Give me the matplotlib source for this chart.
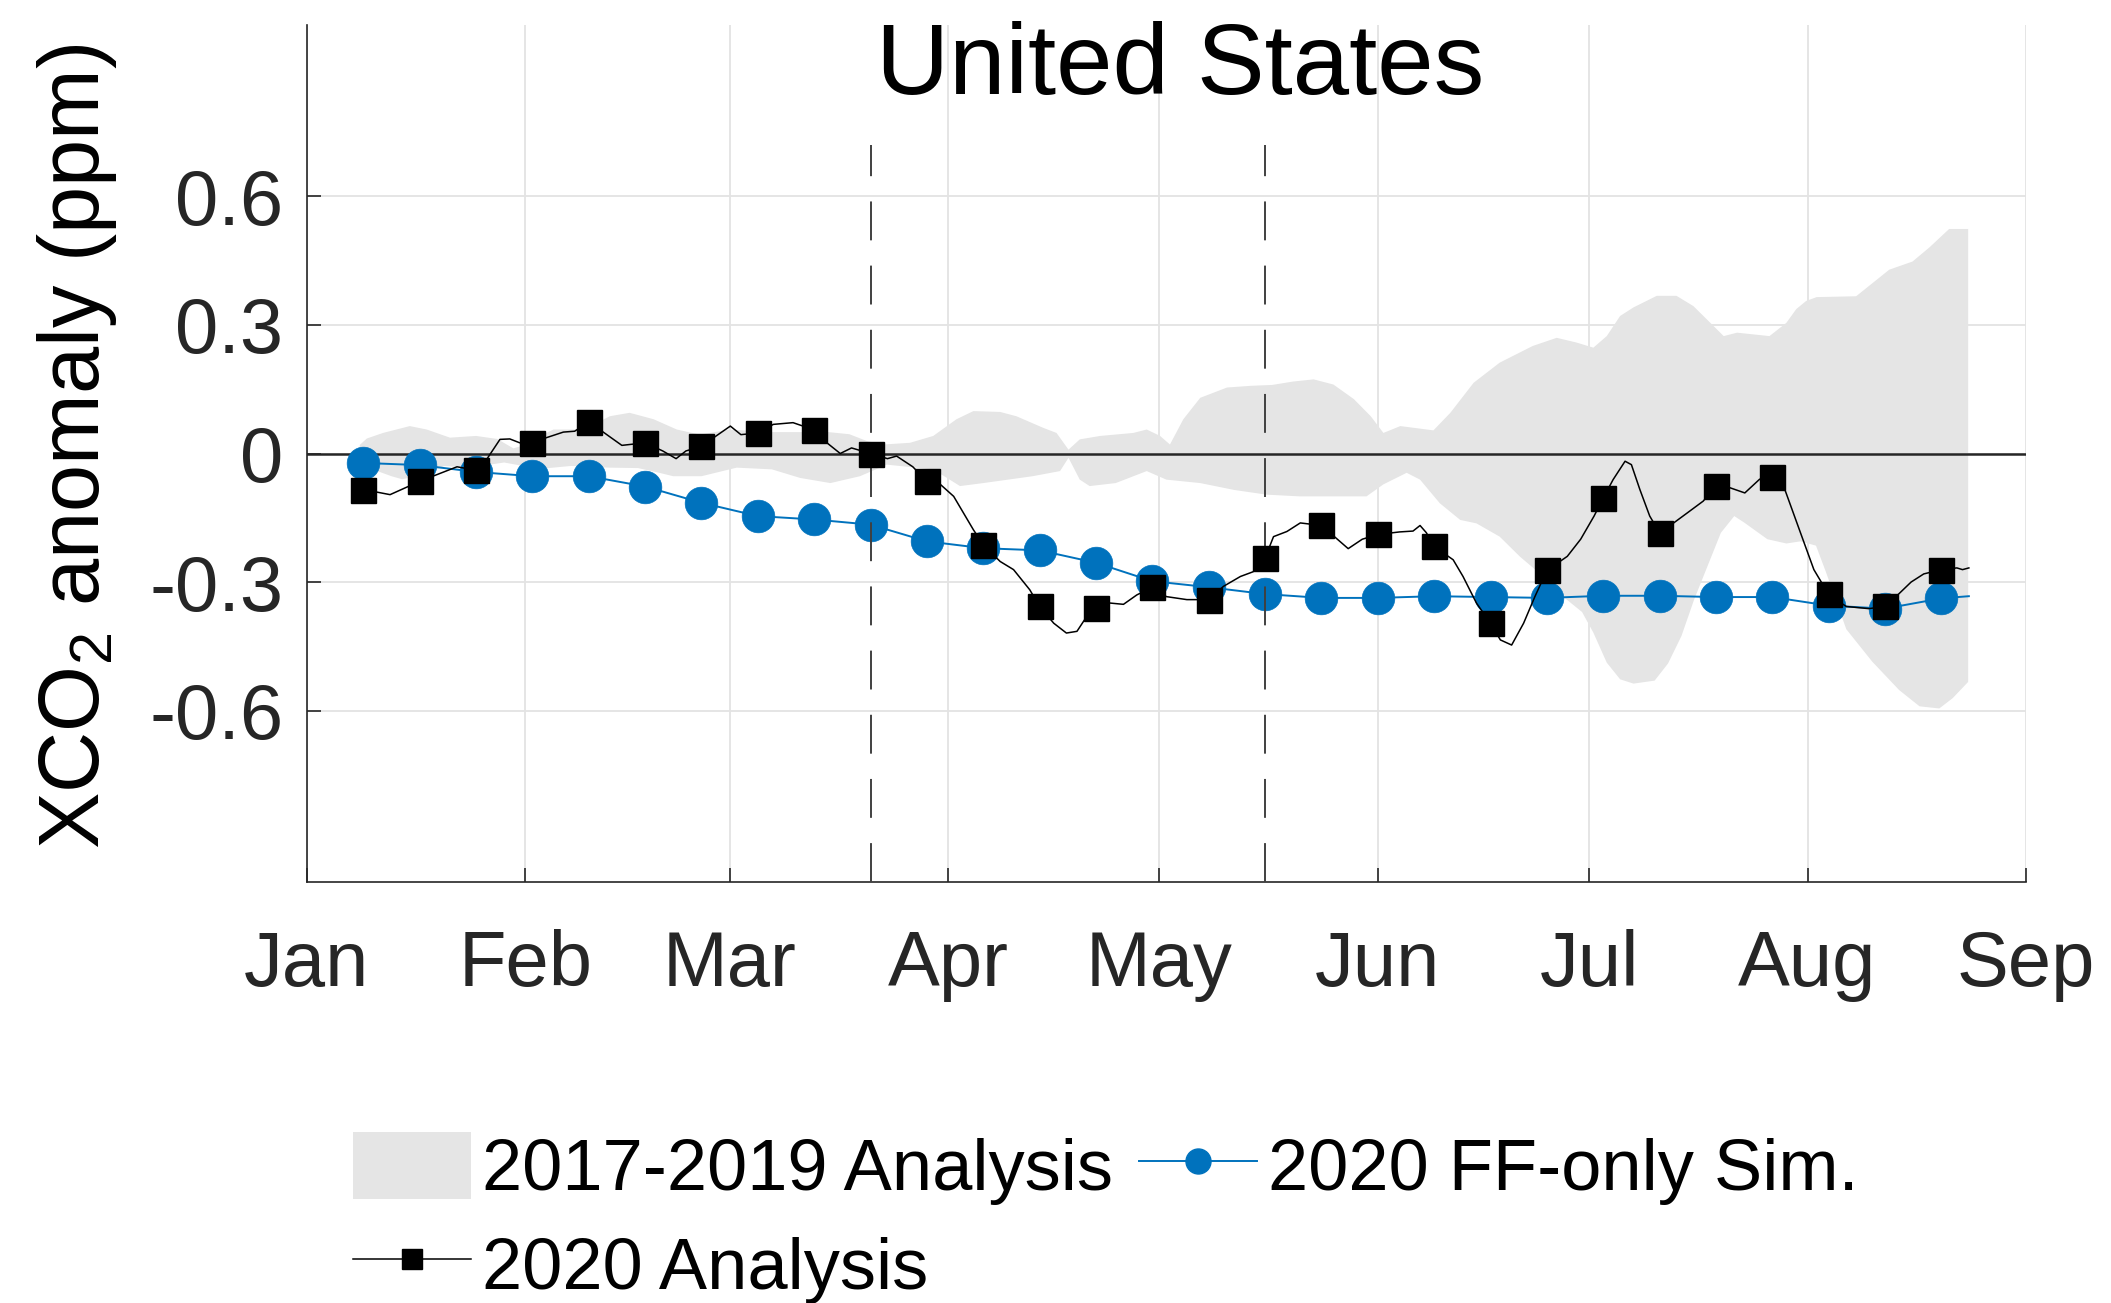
import numpy as np
import matplotlib
matplotlib.use('Agg')
import matplotlib.pyplot as plt
from matplotlib.lines import Line2D
from matplotlib.patches import Patch

plt.rcParams['font.family'] = ['Liberation Sans', 'DejaVu Sans']
plt.rcParams['mathtext.fontset'] = 'custom'
plt.rcParams['mathtext.rm'] = 'Liberation Sans'
plt.rcParams['mathtext.default'] = 'regular'
plt.rcParams['axes.unicode_minus'] = False

# Données (jours depuis le 1er janvier 2020)

month_days = [0, 31, 60, 91, 121, 152, 182, 213, 244]
month_labels = ['Jan', 'Feb', 'Mar', 'Apr', 'May', 'Jun', 'Jul', 'Aug', 'Sep']
y_ticks = [-0.6, -0.3, 0, 0.3, 0.6]
y_labels = ['-0.6', '-0.3', '0', '0.3', '0.6']

# lignes verticales (21 mars, 16 mai)
event_days = [80, 136]
event_top = 0.72

# 2017-2019 : enveloppe (bord haut / bord bas)
band_up_day = [7.5, 8.5, 10.8, 14.6, 17, 20.3, 24, 27, 29.3, 31, 33, 35, 39.3, 43, 45.8,
               49.2, 52.5, 55.8, 60, 66, 70, 74, 77, 79.5, 81.8, 85.6, 88.9, 92.2, 94.6,
               98.4, 100.7, 104.5, 106.4, 108.1, 109.7, 112.6, 117.3, 119.2, 121.1, 122.5,
               124.4, 126.8, 130.6, 134, 137, 140, 142.9, 145.7, 148.6, 151, 152.8, 155.2,
               159.9, 162.3, 165.6, 169.3, 174, 177.4, 180.2, 182.6, 184.5, 186.4, 188.3,
               191.6, 194.4, 196.8, 199.2, 201.1, 203, 207.6, 210, 211.4, 212.8, 214.3,
               219.9, 224.6, 227.9, 230.3, 233.1, 235.8]
band_up = [0.02, 0.035, 0.048, 0.064, 0.056, 0.037, 0.041, 0.034, 0.012, 0.02, 0.04, 0.056,
           0.056, 0.087, 0.095, 0.080, 0.056, 0.044, 0.056, 0.05, 0.05, 0.05, 0.045, 0.029,
           0.021, 0.025, 0.041, 0.080, 0.099, 0.097, 0.087, 0.060, 0.048, 0.009, 0.033,
           0.041, 0.048, 0.056, 0.041, 0.021, 0.080, 0.13, 0.154, 0.158, 0.16, 0.168, 0.173,
           0.161, 0.127, 0.087, 0.048, 0.064, 0.054, 0.095, 0.165, 0.212, 0.251, 0.270,
           0.259, 0.247, 0.274, 0.321, 0.341, 0.368, 0.368, 0.344, 0.305, 0.274, 0.282,
           0.274, 0.305, 0.337, 0.356, 0.365, 0.367, 0.429, 0.448, 0.481, 0.524, 0.524]
band_lo_day = [7.5, 9, 12, 13.5, 16, 19.5, 23, 28, 33, 37.5, 43, 47, 50, 52, 56, 61, 66, 70,
               74.3, 78.5, 82.3, 88.9, 92.7, 96, 103, 106.9, 108.1, 109.7, 111.1, 114.8,
               119.2, 122, 126.8, 131.6, 136.2, 140.9, 145.7, 150.4, 152.8, 156.1, 158,
               160.8, 163.7, 166, 169.3, 172.2, 175, 178, 181, 182.6, 184.5, 186.4, 188.3,
               191.3, 193.2, 195.1, 196.9, 198.8, 200.7, 202.6, 204, 207.3, 210, 212, 214.2,
               215.6, 218.5, 222.2, 226, 228.9, 231.7, 233.6, 235.8]
band_lo = [-0.01, -0.035, -0.053, -0.06, -0.052, -0.029, -0.033, -0.021, -0.036, -0.029,
           -0.033, -0.034, -0.045, -0.053, -0.053, -0.033, -0.037, -0.057, -0.069, -0.053,
           -0.026, -0.037, -0.076, -0.069, -0.053, -0.041, -0.01, -0.061, -0.076, -0.069,
           -0.041, -0.061, -0.069, -0.085, -0.096, -0.1, -0.1, -0.1, -0.072, -0.045, -0.061,
           -0.116, -0.155, -0.163, -0.194, -0.241, -0.28, -0.33, -0.37, -0.418, -0.488,
           -0.527, -0.537, -0.53, -0.49, -0.426, -0.341, -0.263, -0.185, -0.146, -0.161,
           -0.2, -0.21, -0.205, -0.215, -0.276, -0.41, -0.486, -0.552, -0.59, -0.595,
           -0.571, -0.533]

# 2020 FF-only Sim. (marqueurs tous les 8 jours + fin de courbe)
ff_days = [8, 16, 24, 32, 40, 48, 56, 64, 72, 80, 88, 96, 104, 112, 120, 128, 136, 144,
           152, 160, 168, 176, 184, 192, 200, 208, 216, 224, 232, 235.9]
ff_vals = [-0.022, -0.027, -0.043, -0.053, -0.053, -0.077, -0.115, -0.146, -0.154, -0.166,
           -0.205, -0.221, -0.226, -0.255, -0.298, -0.312, -0.328, -0.337, -0.337, -0.333,
           -0.335, -0.337, -0.332, -0.332, -0.335, -0.335, -0.355, -0.362, -0.338, -0.333]

# 2020 Analysis (courbe lue point par point)
an_days = [8, 11.8, 16, 21.3, 24, 25.5, 27.4, 28.8, 30.2, 32, 34, 36.4, 38, 40, 41.8, 44.7,
           48, 50.5, 52.4, 53.8, 56, 58, 60.1, 61.6, 64, 66.2, 69, 72, 73.5, 75.7, 77.3, 80,
           82.4, 83.7, 86, 88, 89.9, 91.8, 94.6, 96, 98.4, 100.3, 102.6, 104, 106, 107.8,
           109.3, 110.7, 112, 114, 115.9, 117.8, 120, 122, 124.9, 128, 130.1, 132.5, 134.3,
           136, 137.2, 139.1, 141, 142.5, 144, 145.7, 147.8, 149.8, 152, 155.1, 157, 158,
           158.9, 160, 162.7, 164.1, 166, 168, 169.4, 171, 172.7, 174.3, 176, 178.9, 180.8,
           182.7, 184, 185.4, 187.1, 188, 189.2, 190.6, 192, 194, 195.9, 198.2, 200, 202,
           204.1, 206.2, 208, 209.6, 212, 213.9, 216, 218.5, 221.7, 224, 225.3, 227.7,
           229.5, 232, 234.2, 235, 235.9]
an_vals = [-0.084, -0.096, -0.065, -0.031, -0.039, -0.014, 0.033, 0.034, 0.025, 0.025,
           0.037, 0.05, 0.052, 0.074, 0.053, 0.019, 0.025, 0.006, -0.012, 0.006, 0.017,
           0.040, 0.064, 0.044, 0.048, 0.068, 0.072, 0.055, 0.029, 0.0, 0.013, 0.0, -0.012,
           -0.006, -0.031, -0.065, -0.072, -0.10, -0.178, -0.213, -0.252, -0.271, -0.318,
           -0.357, -0.396, -0.419, -0.415, -0.38, -0.361, -0.349, -0.352, -0.33, -0.312,
           -0.334, -0.341, -0.341, -0.31, -0.287, -0.276, -0.244, -0.194, -0.182, -0.162,
           -0.165, -0.168, -0.192, -0.222, -0.200, -0.189, -0.183, -0.181, -0.168, -0.185,
           -0.217, -0.248, -0.287, -0.349, -0.396, -0.435, -0.447, -0.396, -0.334, -0.273,
           -0.24, -0.2, -0.146, -0.104, -0.061, -0.018, -0.026, -0.084, -0.146, -0.185,
           -0.162, -0.139, -0.111, -0.075, -0.080, -0.092, -0.06, -0.055, -0.076, -0.185,
           -0.271, -0.329, -0.357, -0.362, -0.357, -0.338, -0.3, -0.281, -0.271, -0.267,
           -0.271, -0.267]
marker_days = ff_days[:-1]

# Tracé

fig = plt.figure(figsize=(21.11, 13.03), dpi=100)
ax = fig.add_axes([0.1454, 0.3231, 0.8143, 0.6577])

gray = '#e5e5e5'
blue = '#0072BD'

ax.fill(np.r_[band_up_day, band_lo_day[::-1]], np.r_[band_up, band_lo[::-1]],
        color=gray, lw=0, zorder=1)
ax.axhline(0, color='#262626', lw=1.8, zorder=2)

ax.plot(ff_days, ff_vals, color=blue, lw=1.4, zorder=3)
ax.plot(ff_days[:-1], ff_vals[:-1], 'o', ms=23.5, mfc=blue, mec=blue, mew=0.5, zorder=3)

for d in event_days:
    ax.plot([d, d], [-1, event_top], color='#404040', lw=1.4, dashes=(20, 13), zorder=3.5)

ax.plot(an_days, an_vals, color='black', lw=1.1, zorder=4)
mk_idx = [an_days.index(d) for d in marker_days]
ax.plot([an_days[i] for i in mk_idx], [an_vals[i] for i in mk_idx], 's', ms=18,
        color='black', zorder=4)

ax.set_xlim(0, 244)
ax.set_ylim(-1, 1)
ax.set_xticks(month_days)
ax.set_xticklabels(month_labels)
ax.set_yticks(y_ticks)
ax.set_yticklabels(y_labels)
ax.tick_params(axis='both', direction='in', length=10, width=1.2, colors='#262626',
               labelsize=56, labelcolor='#262626')
ax.tick_params(axis='x', pad=34)
ax.tick_params(axis='y', pad=17)
ax.grid(True, color='#e3e3e3', lw=1.3)
ax.set_axisbelow(True)
for s in ['top', 'right']:
    ax.spines[s].set_visible(False)
for s in ['left', 'bottom']:
    ax.spines[s].set_color('#262626')
    ax.spines[s].set_linewidth(1.2)

ax.text(0.508, 0.9195, 'United States', transform=ax.transAxes, ha='center',
        va='baseline', fontsize=73, color='black')

fig.text(0.0365, 1 - 446 / 1303, 'XCO$_2$ anomaly (ppm)', rotation=90, ha='center',
         va='center', fontsize=61, color='black')

handles = [Patch(facecolor=gray, edgecolor='none', label='2017-2019 Analysis'),
           Line2D([], [], color='black', lw=1.1, marker='s', ms=14, label='2020 Analysis'),
           Line2D([], [], color=blue, lw=1.4, marker='o', ms=18, mec=blue,
                  label='2020 FF-only Sim.')]
fig.legend(handles=handles, ncol=2, loc='upper left', bbox_to_anchor=(353 / 2111, 1 - 1132 / 1303),
           frameon=False, fontsize=52, handlelength=1.64, handleheight=1.05,
           handletextpad=0.15, columnspacing=0.35, labelspacing=0.35, borderpad=0,
           borderaxespad=0, numpoints=1)

plt.savefig('out.png', dpi=100)
